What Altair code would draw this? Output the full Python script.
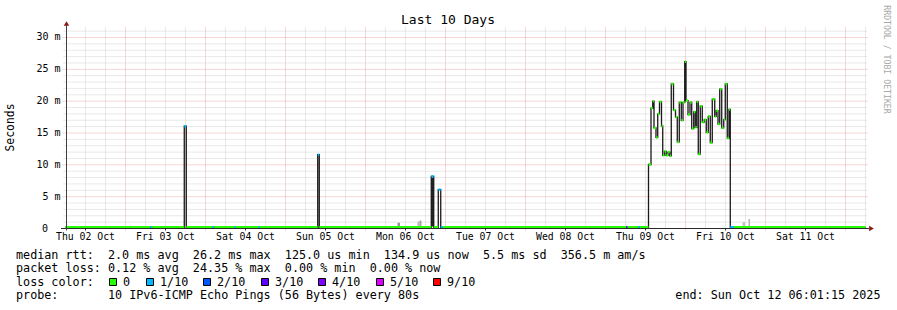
import altair as alt
import pandas as pd

# ---------------- data ----------------
END_ISO = "2025-10-12T06:01:15Z"

# median RTT step series: change points (UTC "MM-DD HH:MM"), median ms, loss (tenths)
step_times = [
    "10-02 06:01", "10-03 07:30", "10-03 08:00", "10-03 17:38", "10-03 18:14",
    "10-04 02:05", "10-04 02:35", "10-04 08:33", "10-04 09:00", "10-04 15:45",
    "10-04 16:12", "10-05 09:40", "10-05 10:08", "10-06 19:44", "10-06 20:28",
    "10-06 21:50", "10-06 22:34", "10-06 23:16", "10-09 06:09", "10-09 06:36",
    "10-09 09:54", "10-09 10:21",
    "10-09 12:54", "10-09 13:39", "10-09 14:10", "10-09 14:33", "10-09 15:09",
    "10-09 15:40", "10-09 16:12", "10-09 16:48", "10-09 17:10", "10-09 17:42",
    "10-09 18:14", "10-09 18:45", "10-09 19:16", "10-09 19:44", "10-09 20:24",
    "10-09 21:00", "10-09 21:32", "10-09 22:08", "10-09 22:44", "10-09 23:15",
    "10-09 23:46", "10-10 00:09", "10-10 00:45", "10-10 01:21", "10-10 01:52",
    "10-10 02:28", "10-10 02:56", "10-10 03:22", "10-10 03:50", "10-10 04:26",
    "10-10 05:02", "10-10 05:38", "10-10 06:14", "10-10 06:50", "10-10 07:26",
    "10-10 08:02", "10-10 08:46", "10-10 09:14", "10-10 09:45", "10-10 10:16",
    "10-10 10:52", "10-10 11:28", "10-10 11:56", "10-10 12:32", "10-10 13:03",
    "10-10 13:26", "10-10 14:33",
]
step_ms = [
    0.2, 0.2, 0.2, 16.07, 0.2,
    0.2, 0.2, 0.2, 0.2, 0.2,
    0.2, 11.6, 0.2, 8.2, 0.2,
    6.1, 0.2, 0.2, 0.2, 0.2,
    0.2, 0.2,
    10.05, 18.9, 20.0, 15.8, 14.3,
    18.0, 19.9, 16.1, 11.5, 12.1,
    11.5, 12.0, 11.4, 22.7, 18.6,
    17.5, 13.6, 19.8, 17.0, 19.8,
    26.2, 20.1, 17.9, 19.8, 15.7,
    18.3, 15.9, 19.9, 11.7, 19.2,
    16.7, 17.1, 15.1, 17.6, 13.5,
    20.3, 17.6, 18.5, 16.4, 21.9,
    15.8, 17.1, 22.7, 14.2, 18.7,
    0.2, 0.2,
]
step_loss = [
    0, 1, 0, 1, 0,
    1, 0, 1, 0, 1,
    0, 1, 0, 1, 0,
    1, 1, 0, 3, 0,
    1, 0,
    0, 0, 0, 0, 0,
    0, 0, 0, 0, 0,
    0, 0, 0, 0, 0,
    0, 0, 0, 0, 0,
    0, 0, 0, 0, 0,
    0, 0, 0, 0, 0,
    0, 0, 0, 0, 0,
    0, 0, 0, 0, 0,
    0, 0, 0, 0, 0,
    1, 0,
]

# smoke (ping spread) patches
smoke_start = ["10-03 01:21", "10-05 13:21", "10-06 09:36", "10-06 15:36",
               "10-06 16:12", "10-06 19:44", "10-10 17:06", "10-10 18:54"]
smoke_end = ["10-03 01:39", "10-05 13:39", "10-06 10:21", "10-06 16:12",
             "10-06 16:48", "10-06 20:28", "10-10 17:51", "10-10 19:21"]
smoke_lo = [0.2, 0.2, 0.35, 0.35, 0.35, 0.3, 0.25, 0.25]
smoke_hi = [0.5, 0.45, 0.9, 1.1, 1.25, 8.0, 1.0, 1.5]
smoke_density = [0.2, 0.2, 0.42, 0.28, 0.36, 0.95, 0.24, 0.3]

loss_levels = [0, 1, 2, 3, 4, 5, 9]
loss_labels = ["0", "1/10", "2/10", "3/10", "4/10", "5/10", "9/10"]
loss_colors = ["#26ff00", "#00b8ff", "#0059ff", "#5e00ff", "#7e00ff", "#dd00ff", "#ff0000"]

day_labels = ["Thu 02 Oct", "Fri 03 Oct", "Sat 04 Oct", "Sun 05 Oct", "Mon 06 Oct",
              "Tue 07 Oct", "Wed 08 Oct", "Thu 09 Oct", "Fri 10 Oct", "Sat 11 Oct"]
y_tick_values = [0, 5, 10, 15, 20, 25, 30]
y_tick_labels = ["0", "5 m", "10 m", "15 m", "20 m", "25 m", "30 m"]

stats_lines = [
    "median rtt:  2.0 ms avg  26.2 ms max  125.0 us min  134.9 us now  5.5 ms sd  356.5 m am/s",
    "packet loss: 0.12 % avg  24.35 % max  0.00 % min  0.00 % now",
    "loss color:",
    "probe:       10 IPv6-ICMP Echo Pings (56 Bytes) every 80s",
]
end_text = "end: Sun Oct 12 06:01:15 2025"
title_text = "Last 10 Days"
y_title = "Seconds"
watermark = "RRDTOOL / TOBI OETIKER"

# ---------------- layout ----------------
W, H = 800, 201
LEFT, TOP = 65.57, 27.5
Y_MAX = 31.57
BAND = 0.19
FONT = "DejaVu Sans Mono"
MINOR = "#d2d2d2"
MAJOR = "#eeaaaa"
AXIS = "#2a2a2a"
ARROW = "#8b1a1a"


def iso(t):
    return "2025-" + t.replace(" ", "T") + ":00Z"


xs = alt.Scale(type="utc", domain=[
    alt.DateTime(year=2025, month=10, date=2, hours=6, minutes=1, seconds=15, utc=True),
    alt.DateTime(year=2025, month=10, date=12, hours=6, minutes=1, seconds=15, utc=True)])
ys = alt.Scale(domain=[0, Y_MAX], nice=False, zero=False)

steps = pd.DataFrame({
    "start": [iso(t) for t in step_times],
    "end": [iso(t) for t in step_times[1:]] + [END_ISO],
    "ms": step_ms,
    "loss": step_loss,
})
steps["lo"] = steps["ms"] - BAND
steps["hi"] = steps["ms"] + BAND
line_df = pd.DataFrame({"t": list(steps["start"]) + [END_ISO],
                        "ms": step_ms + [step_ms[-1]]})
smoke = pd.DataFrame({"start": [iso(t) for t in smoke_start],
                      "end": [iso(t) for t in smoke_end],
                      "lo": smoke_lo, "hi": smoke_hi, "d": smoke_density})

hours6 = pd.date_range("2025-10-02 12:00", "2025-10-12 06:00", freq="6h")
minor_x = pd.DataFrame({"t": [d.strftime("%Y-%m-%dT%H:%M:00Z") for d in hours6 if d.hour != 0]})
major_x = pd.DataFrame({"t": [d.strftime("%Y-%m-%dT%H:%M:00Z") for d in hours6 if d.hour == 0]})
noon_x = pd.DataFrame({"t": [d.strftime("%Y-%m-%dT%H:%M:00Z") for d in hours6 if d.hour == 12],
                       "label": day_labels})
minor_y = pd.DataFrame({"v": [v for v in range(1, 32) if v % 5 != 0]})
major_y = pd.DataFrame({"v": [v for v in range(5, 31, 5)]})
ylab = pd.DataFrame({"v": y_tick_values, "label": y_tick_labels})

X = lambda f: alt.X(f, scale=xs, axis=None)
Y = lambda f: alt.Y(f, scale=ys, axis=None)

layers = []
layers.append(alt.Chart(minor_x).mark_rule(color=MINOR, strokeDash=[1, 1]).encode(
    x=X("t:T"), y=alt.value(0), y2=alt.value(H)))
layers.append(alt.Chart(minor_y).mark_rule(color=MINOR, strokeDash=[1, 1]).encode(
    y=Y("v:Q"), x=alt.value(-2), x2=alt.value(W + 2)))
layers.append(alt.Chart(major_x).mark_rule(color=MAJOR, strokeDash=[1, 1]).encode(
    x=X("t:T"), y=alt.value(0), y2=alt.value(H + 2)))
layers.append(alt.Chart(major_y).mark_rule(color=MAJOR, strokeDash=[1, 1]).encode(
    y=Y("v:Q"), x=alt.value(-3), x2=alt.value(W + 2)))
layers.append(alt.Chart(noon_x).mark_rule(color=AXIS).encode(
    x=X("t:T"), y=alt.value(H), y2=alt.value(H + 2)))

# smoke
layers.append(alt.Chart(smoke).mark_rect().encode(
    x=X("start:T"), x2="end:T", y=Y("lo:Q"), y2="hi:Q",
    fill=alt.Fill("d:Q", scale=alt.Scale(domain=[0, 1], range=["#ffffff", "#1a1a1a"]), legend=None)))
# median line
layers.append(alt.Chart(line_df).mark_line(interpolate="step-after", color="#1a1a1a", strokeWidth=1.3).encode(
    x=X("t:T"), y=Y("ms:Q")))
# loss coloured median band
layers.append(alt.Chart(steps).mark_rect().encode(
    x=X("start:T"), x2="end:T", y=Y("lo:Q"), y2="hi:Q",
    color=alt.Color("loss:O", scale=alt.Scale(domain=loss_levels, range=loss_colors), legend=None)))

one = pd.DataFrame({"a": [0]})
# axes
layers.append(alt.Chart(one).mark_rule(color=AXIS).encode(
    x=alt.value(61 - LEFT), x2=alt.value(869 - LEFT), y=alt.value(H)))
layers.append(alt.Chart(one).mark_rule(color="#404040").encode(
    x=alt.value(66.5 - LEFT), y=alt.value(H + 2), y2=alt.value(24 - TOP)))
layers.append(alt.Chart(one).mark_point(shape="triangle-up", filled=True, size=30, color=ARROW, opacity=1).encode(
    x=alt.value(66.5 - LEFT), y=alt.value(23.5 - TOP)))
layers.append(alt.Chart(one).mark_point(shape="triangle-right", filled=True, size=30, color=ARROW, opacity=1).encode(
    x=alt.value(871.5 - LEFT), y=alt.value(H)))

# tick labels
layers.append(alt.Chart(noon_x).mark_text(font=FONT, fontSize=9.8, align="center", baseline="alphabetic", color="#000").encode(
    x=X("t:T"), y=alt.value(240.3 - TOP), text="label:N"))
layers.append(alt.Chart(ylab).transform_filter("datum.v > 0").mark_text(
    font=FONT, fontSize=10, align="right", baseline="middle", color="#000").encode(
    y=Y("v:Q"), x=alt.value(60.6 - LEFT), text="label:N"))
layers.append(alt.Chart(ylab).transform_filter("datum.v == 0").mark_text(
    font=FONT, fontSize=10, align="right", baseline="middle", color="#000").encode(
    y=Y("v:Q"), x=alt.value(48 - LEFT), text="label:N"))


def txt(s, x_abs, y_abs, size, align="left", baseline="alphabetic", angle=0, color="#000"):
    df = pd.DataFrame({"s": [s.replace(" ", "\u00a0")]})
    return alt.Chart(df).mark_text(font=FONT, fontSize=size, align=align, baseline=baseline,
                                   angle=angle, color=color).encode(
        text="s:N", x=alt.value(x_abs - LEFT), y=alt.value(y_abs - TOP))


layers.append(txt(title_text, 448, 23.5, 13, align="center"))
layers.append(txt(y_title, 11, 127.5, 11.4, align="center", baseline="middle", angle=270))
layers.append(txt(watermark, 886, 59.5, 8.2, align="center", baseline="middle", angle=90, color="#a8a8a8"))

baselines = [259, 272.4, 285.8, 299.2]
for s, yb in zip(stats_lines, baselines):
    layers.append(txt(s, 16, yb, 11.75))
layers.append(txt(end_text, 880.5, baselines[3], 11.75, align="right"))

box_x = [109.5, 146.5, 203.5, 261.5, 318.5, 376.5, 433.5]
for bx, lab, col in zip(box_x, loss_labels, loss_colors):
    layers.append(alt.Chart(one).mark_rect(fill=col, stroke="#000", strokeWidth=1).encode(
        x=alt.value(bx - LEFT), x2=alt.value(bx + 7 - LEFT),
        y=alt.value(278.5 - TOP), y2=alt.value(285.5 - TOP)))
    layers.append(txt(lab, bx + 13.5, baselines[2], 11.75))

chart = alt.layer(*layers).resolve_scale(color="independent", fill="independent").properties(
    width=W, height=H,
    padding={"left": LEFT, "top": TOP, "right": 897 - LEFT - W, "bottom": 310 - TOP - H},
    autosize=alt.AutoSizeParams(type="none"),
    background="#ffffff",
).configure_view(strokeWidth=0)

chart.save("out.html", embed_options={"renderer": "svg", "actions": False})
